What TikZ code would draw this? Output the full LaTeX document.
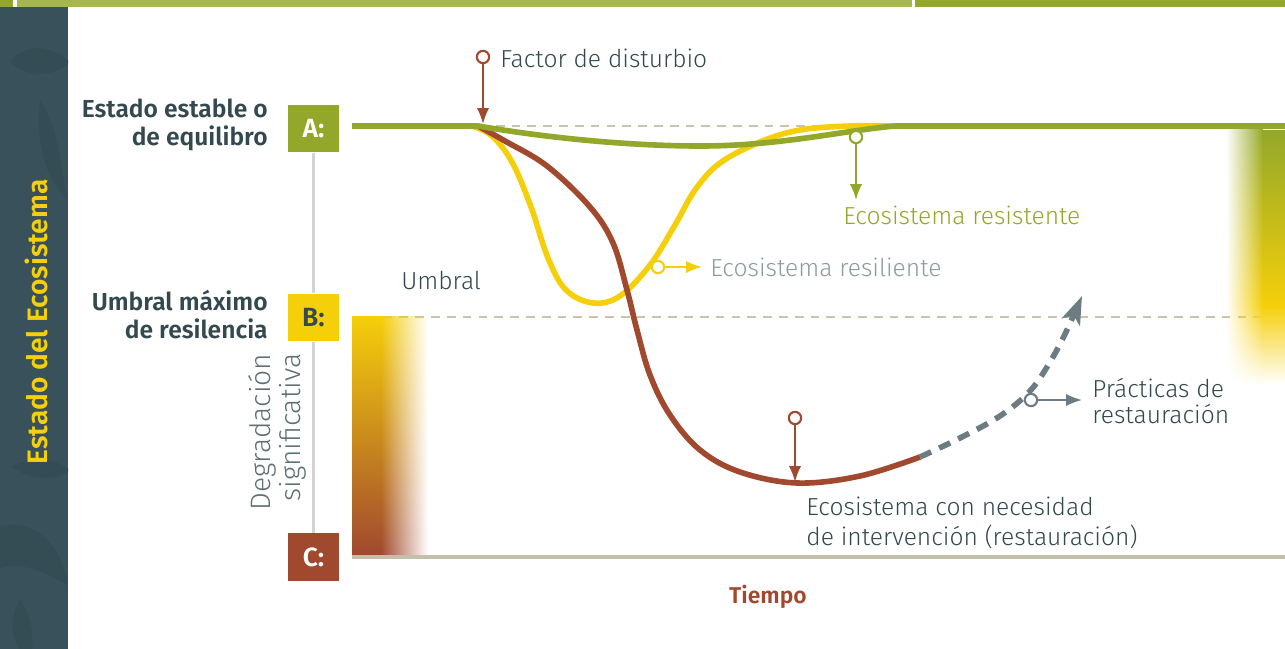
\documentclass[tikz,border=0pt]{standalone}
\usepackage{fontspec}
\setmainfont{Fira Sans}[UprightFont={* Light}, BoldFont={* SemiBold}]
\usetikzlibrary{arrows.meta, fadings}

\definecolor{slate}{HTML}{38515A}
\definecolor{leafdark}{HTML}{344C54}
\definecolor{ecogreen}{HTML}{93A82A}
\definecolor{stripgreen}{HTML}{A6B74E}
\definecolor{ecoyellow}{HTML}{F5CF0A}
\definecolor{ecoorange}{HTML}{DDA83E}
\definecolor{ecobrown}{HTML}{A0492F}
\definecolor{restgray}{HTML}{6D7C83}
\definecolor{inkdark}{HTML}{33494F}
\definecolor{inklight}{HTML}{8F9A9F}
\definecolor{inkmid}{HTML}{5E6F75}
\definecolor{guide}{HTML}{CAC4AD}
\definecolor{timeaxis}{HTML}{C4BFA8}
\definecolor{stateaxis}{HTML}{D3D3D3}

\tikzfading[name=faderight, left color=transparent!0, right color=transparent!100]
\tikzfading[name=fadeleft, left color=transparent!100, right color=transparent!0]

\tikzset{
  curve/.style={line width=3.2pt},
  ring/.style={circle, draw=#1, fill=white, line width=1.2pt, inner sep=0pt, minimum size=7pt},
  pointer/.style={draw=#1, line width=1.1pt, -{Latex[length=9pt, width=7pt]}},
  statebox/.style={minimum width=29pt, minimum height=27pt, inner sep=0pt, font=\fontsize{15}{15}\selectfont\bfseries},
  sidelabel/.style={anchor=east, align=right, inner sep=0pt, text=inkdark, font=\fontsize{14}{16}\selectfont\bfseries},
  note/.style={anchor=west, align=left, inner sep=0pt, font=\fontsize{14}{17}\selectfont},
  guideline/.style={guide, line width=1.1pt, dash pattern=on 5pt off 4pt},
}

\begin{document}
\begin{tikzpicture}[x=0.02cm, y=-0.02cm]
\useasboundingbox (0,0) rectangle (1285,649);

% Top strip
\fill[ecogreen] (0,0) rectangle (13,7);
\fill[stripgreen] (17,0) rectangle (912,7);
\fill[ecogreen] (915,0) rectangle (1285,7);

% Side bar with faint leaves
\fill[slate] (0,7) rectangle (68,649);
\begin{scope}
  \clip (0,7) rectangle (68,649);
  \fill[leafdark] (70,62) .. controls (45,40) and (20,48) .. (10,62) .. controls (25,76) and (50,80) .. (70,62);
  \fill[leafdark] (40,100) .. controls (60,130) and (60,170) .. (68,200) .. controls (45,180) and (35,140) .. (40,100);
  \fill[leafdark] (70,470) .. controls (50,455) and (25,458) .. (12,467) .. controls (30,480) and (55,482) .. (70,470);
  \fill[leafdark] (-5,528) .. controls (30,515) and (60,540) .. (68,585) .. controls (40,570) and (20,560) .. (-5,570);
  \fill[leafdark] (20,600) .. controls (32,615) and (35,640) .. (30,660) .. controls (10,645) and (8,620) .. (20,600);
\end{scope}
\node[rotate=90, text=ecoyellow, inner sep=0pt, font=\fontsize{16}{16}\selectfont\bfseries] (eje) at (36,322) {Estado del Ecosistema};

% Guide lines (dashed)
\draw[guideline] (480,126) -- (890,126); % Stable state
\draw[guideline] (352,317) -- (1285,317); % Threshold

% Gradient bar (degradation)
\shade[top color=ecoyellow, middle color=ecoorange, bottom color=ecobrown] (352,316) rectangle (382,555);
\shade[top color=ecoyellow, middle color=ecoorange, bottom color=ecobrown, path fading=faderight] (381,316) rectangle (428,555);

% Gradient at the right edge
\shade[top color=ecogreen, bottom color=ecoyellow] (1262,130) rectangle (1285,305);
\shade[top color=ecoyellow, bottom color=white] (1262,305) rectangle (1285,385);
\shade[top color=ecogreen, bottom color=ecoyellow, path fading=fadeleft] (1226,130) rectangle (1263,305);
\shade[top color=ecoyellow, bottom color=white, path fading=fadeleft] (1226,305) rectangle (1263,385);

% Time axis
\draw[timeaxis, line width=2.8pt] (352,557) -- (1285,557);

% State boxes and axis
\node[statebox, fill=ecogreen, text=white] (boxA) at (313.5,128.5) {A:};
\node[statebox, fill=ecoyellow, text=inkdark] (boxB) at (313.5,317.5) {B:};
\node[statebox, fill=ecobrown, text=white] (boxC) at (313.5,557) {C:};
\draw[stateaxis, line width=1.7pt] (boxA) -- (boxB) -- (boxC);

% State labels
\node[sidelabel] (estable) at (268,125) {Estado estable o\\de equilibro};
\node[sidelabel] (umbralmax) at (268,314.5) {Umbral máximo\\de resilencia};
\node[note, text=inkmid, rotate=90, anchor=center, align=right, font=\fontsize{16}{17}\selectfont] (degradacion) at (277,432) {Degradación\\significativa};
\node[note, text=inkdark] (umbral) at (401,280) {Umbral};
\node[text=ecobrown, inner sep=0pt, font=\fontsize{13}{13}\selectfont\bfseries] (tiempo) at (768,597) {Tiempo};

% Resilient ecosystem (yellow)
\draw[ecoyellow, curve] plot[smooth, tension=0.6] coordinates {(472,126) (492,136) (512,162) (531,207) (548,258) (566,290) (593,303) (620,296) (650,265) (675,225) (695,190) (720,163) (760,142) (800,130) (850,126) (895,126)};

% Ecosystem needing restoration (brown)
\draw[ecobrown, curve] plot[smooth, tension=0.6] coordinates {(478,126) (505,141) (547,166) (590,207) (613,243) (627,290) (637,330) (650,375) (670,415) (700,450) (740,472) (797,483) (860,476) (920,457)};

% Restoration practices (dashed)
\draw[restgray, curve, dash pattern=on 7pt off 5pt, -{Stealth[length=16pt, width=11pt, inset=4pt]}] plot[smooth, tension=0.6] coordinates {(920,457) (960,438) (1000,416) (1030,391) (1050,362) (1066,332) (1082,296)};

% Resistant ecosystem (green)
\draw[ecogreen, curve] (352,126) -- (478,126) .. controls (560,140) and (640,146) .. (700,146) .. controls (780,146) and (840,131) .. (895,126) -- (1285,126);

% Markers and labels
\node[ring=ecobrown] (disturbio) at (483,57) {};
\coordinate (disturbio tip) at (483,124);
\draw[pointer=ecobrown] (disturbio) -- (disturbio tip);
\node[note, text=inkdark] (disturbio label) at (500,58) {Factor de disturbio};

\node[ring=ecogreen] (resistente) at (856,137) {};
\coordinate (resistente tip) at (856,200);
\draw[pointer=ecogreen] (resistente) -- (resistente tip);
\node[note, text=ecogreen] (resistente label) at (843,215) {Ecosistema resistente};

\node[ring=ecoyellow] (resiliente) at (658,267) {};
\coordinate (resiliente tip) at (702,267);
\draw[pointer=ecoyellow] (resiliente) -- (resiliente tip);
\node[note, text=inklight] (resiliente label) at (710,267) {Ecosistema resiliente};

\node[ring=ecobrown] (intervencion) at (795,418) {};
\coordinate (intervencion tip) at (795,482);
\draw[pointer=ecobrown] (intervencion) -- (intervencion tip);
\node[note, text=inkdark, anchor=north west] (intervencion label) at (806,497) {Ecosistema con necesidad\\de intervención (restauración)};

\node[ring=restgray] (practicas) at (1031,400) {};
\coordinate (practicas tip) at (1082,400);
\draw[pointer=restgray] (practicas) -- (practicas tip);
\node[note, text=inkdark, font=\fontsize{14}{15}\selectfont] (practicas label) at (1092,401) {Prácticas de\\restauración};

\end{tikzpicture}
\end{document}
